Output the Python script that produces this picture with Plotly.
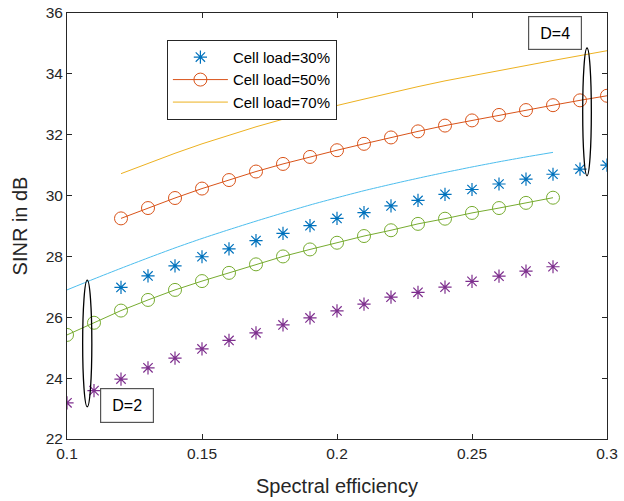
import plotly.graph_objects as go

# ---- data ----
x_d4 = [0.12, 0.13, 0.14, 0.15, 0.16, 0.17, 0.18, 0.19, 0.20, 0.21,
        0.22, 0.23, 0.24, 0.25, 0.26, 0.27, 0.28, 0.29, 0.30]
x_d2 = [0.10, 0.11, 0.12, 0.13, 0.14, 0.15, 0.16, 0.17, 0.18, 0.19,
        0.20, 0.21, 0.22, 0.23, 0.24, 0.25, 0.26, 0.27, 0.28]

d4_load30 = [26.98, 27.36, 27.69, 27.99, 28.25, 28.52, 28.76, 29.01, 29.25, 29.44,
             29.66, 29.84, 30.04, 30.20, 30.38, 30.54, 30.70, 30.87, 31.00]
d4_load50 = [29.25, 29.59, 29.92, 30.23, 30.51, 30.79, 31.04, 31.27, 31.49, 31.70,
             31.91, 32.11, 32.30, 32.47, 32.65, 32.81, 32.97, 33.13, 33.28]
d4_load70 = [30.72, 31.06, 31.39, 31.70, 31.98, 32.26, 32.51, 32.74, 32.96, 33.17,
             33.38, 33.58, 33.77, 33.94, 34.12, 34.28, 34.44, 34.60, 34.76]

d2_load30 = [23.19, 23.59, 23.97, 24.34, 24.66, 24.96, 25.24, 25.49, 25.75, 25.98,
             26.21, 26.43, 26.66, 26.82, 26.99, 27.18, 27.35, 27.52, 27.66]
d2_load50 = [25.42, 25.82, 26.22, 26.57, 26.90, 27.19, 27.46, 27.74, 28.00, 28.23,
             28.45, 28.67, 28.86, 29.07, 29.24, 29.43, 29.59, 29.76, 29.93]
d2_load70 = [26.90, 27.26, 27.61, 27.95, 28.28, 28.59, 28.88, 29.16, 29.43, 29.69,
             29.93, 30.16, 30.37, 30.57, 30.76, 30.94, 31.11, 31.27, 31.42]

legend_names = ["Cell load=30%", "Cell load=50%", "Cell load=70%"]
x_ticks = [0.1, 0.15, 0.2, 0.25, 0.3]
x_tick_text = ["0.1", "0.15", "0.2", "0.25", "0.3"]
y_ticks = [22, 24, 26, 28, 30, 32, 34, 36]

# ellipse annotations (center x, center y, half width, half height)
ell_d4 = (0.2926, 32.75, 0.0016, 2.1)
ell_d2 = (0.1075, 25.14, 0.0017, 2.08)

C_BLUE = "#0072BD"
C_ORANGE = "#D95319"
C_YELLOW = "#EDB120"
C_PURPLE = "#7E2F8E"
C_GREEN = "#77AC30"
C_CYAN = "#4DBEEE"
FONT = "Liberation Sans, Arial, sans-serif"
AX = "#262626"

fig = go.Figure()

fig.add_trace(go.Scatter(x=x_d4, y=d4_load30, mode="markers", name=legend_names[0],
                         marker=dict(symbol="asterisk-open", size=11, color=C_BLUE,
                                     line=dict(color=C_BLUE, width=1.2))))
fig.add_trace(go.Scatter(x=x_d4, y=d4_load50, mode="lines+markers", name=legend_names[1],
                         line=dict(color=C_ORANGE, width=1),
                         marker=dict(symbol="circle-open", size=13, color=C_ORANGE,
                                     line=dict(color=C_ORANGE, width=1))))
fig.add_trace(go.Scatter(x=x_d4, y=d4_load70, mode="lines", name=legend_names[2],
                         line=dict(color=C_YELLOW, width=1)))

fig.add_trace(go.Scatter(x=x_d2, y=d2_load30, mode="markers", showlegend=False,
                         marker=dict(symbol="asterisk-open", size=11, color=C_PURPLE,
                                     line=dict(color=C_PURPLE, width=1.2))))
fig.add_trace(go.Scatter(x=x_d2, y=d2_load50, mode="lines+markers", showlegend=False,
                         line=dict(color=C_GREEN, width=1),
                         marker=dict(symbol="circle-open", size=13, color=C_GREEN,
                                     line=dict(color=C_GREEN, width=1))))
fig.add_trace(go.Scatter(x=x_d2, y=d2_load70, mode="lines", showlegend=False,
                         line=dict(color=C_CYAN, width=1, shape="spline", smoothing=0.6)))

shapes = []
for cx, cy, hw, hh in (ell_d4, ell_d2):
    shapes.append(dict(type="circle", xref="x", yref="y", x0=cx - hw, x1=cx + hw,
                       y0=cy - hh, y1=cy + hh, line=dict(color="black", width=1.3),
                       layer="above"))

annotations = [
    dict(text="D=4", xref="paper", yref="paper", x=0.9028, y=0.953,
         xanchor="center", yanchor="middle", showarrow=False,
         font=dict(family=FONT, size=16, color="black"), width=50, height=30,
         bordercolor="#555555", borderwidth=1.2, borderpad=1, bgcolor="white"),
    dict(text="D=2", xref="paper", yref="paper", x=0.1117, y=0.0798,
         xanchor="center", yanchor="middle", showarrow=False,
         font=dict(family=FONT, size=16, color="black"), width=50, height=31,
         bordercolor="#555555", borderwidth=1.2, borderpad=1, bgcolor="white"),
]

fig.update_layout(
    width=624, height=501,
    margin=dict(l=67, r=17, t=13, b=62, autoexpand=False),
    paper_bgcolor="white", plot_bgcolor="white",
    font=dict(family=FONT, color=AX),
    shapes=shapes, annotations=annotations,
    legend=dict(x=0.185, y=0.937, xanchor="left", yanchor="top",
                bordercolor="#262626", borderwidth=1, bgcolor="white",
                font=dict(family=FONT, size=15, color="black"),
                tracegroupgap=0, itemwidth=55),
    xaxis=dict(range=[0.1, 0.3], tickvals=x_ticks, ticktext=x_tick_text,
               showgrid=False, zeroline=False, showline=True, linecolor=AX, linewidth=1,
               mirror="ticks", ticks="inside", ticklen=5, tickcolor=AX, automargin=False,
               tickfont=dict(family=FONT, size=15.5, color=AX),
               title=dict(text="Spectral efficiency", font=dict(family=FONT, size=20, color=AX),
                          standoff=18)),
    yaxis=dict(range=[22, 36], tickvals=y_ticks,
               showgrid=False, zeroline=False, showline=True, linecolor=AX, linewidth=1,
               mirror="ticks", ticks="inside", ticklen=5, tickcolor=AX, automargin=False,
               tickfont=dict(family=FONT, size=15.5, color=AX),
               title=dict(text="SINR in dB", font=dict(family=FONT, size=20, color=AX),
                          standoff=12)),
)

fig.write_html("out.html")
